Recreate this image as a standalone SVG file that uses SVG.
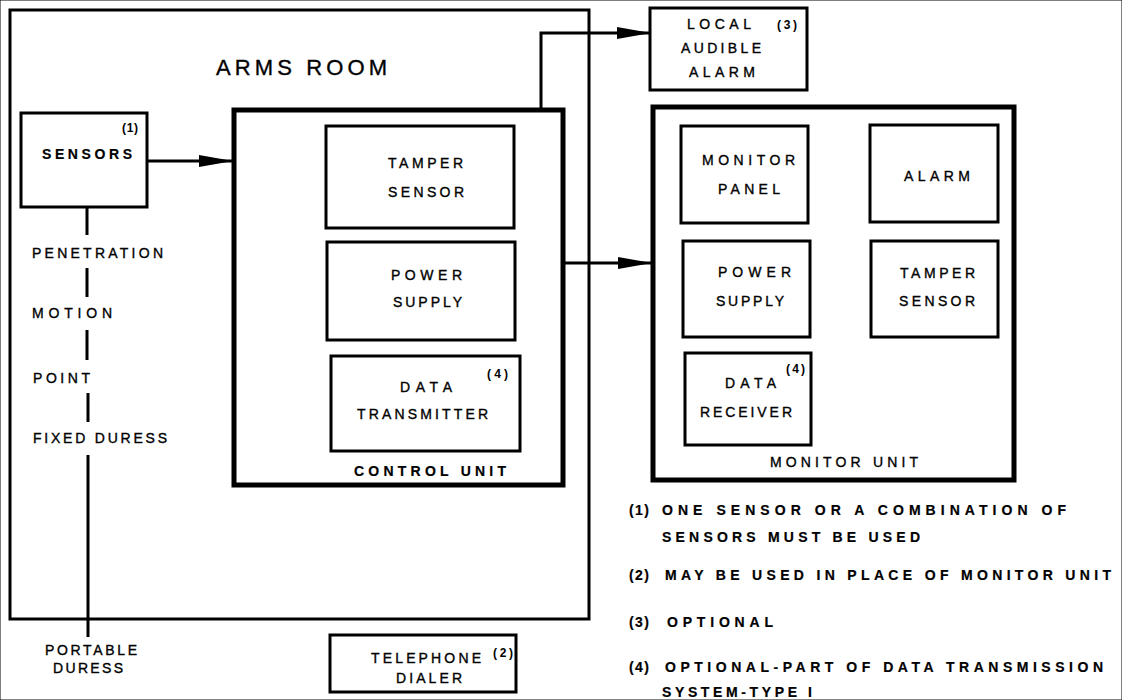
<svg xmlns="http://www.w3.org/2000/svg" width="1122" height="700" viewBox="0 0 1122 700">
<style>
rect{fill:none;stroke:#000}
.box{stroke-width:3}
.thick{stroke-width:5}
.room{stroke-width:3}
.ln{fill:none;stroke:#000;stroke-width:3}
text{font-family:"Liberation Sans",Arial,sans-serif;fill:#000;font-size:14px;stroke:#000;stroke-width:0.35}
.b{font-weight:bold;stroke-width:0.2}
.big{font-size:22px}
.sm{font-size:12px;font-weight:bold;stroke-width:0}
</style>
<defs>
<marker id="ah" markerUnits="userSpaceOnUse" markerWidth="34" markerHeight="12" refX="33" refY="6" orient="auto">
<path d="M0,0 L34,6 L0,12 z" fill="#000"/>
</marker>
</defs>
<rect width="1122" height="700" fill="#fff" stroke="none"/>

<g id="arms-room">
<rect class="room" x="10" y="10" width="579" height="609"/>
<text class="big" x="216" y="75" textLength="171" lengthAdjust="spacing">ARMS ROOM</text>
</g>

<g id="sensors">
<rect class="box" x="21" y="113" width="126" height="94"/>
<text class="b" font-size="17" x="42" y="159" textLength="90" lengthAdjust="spacing">SENSORS</text>
<text class="sm" x="122" y="132" textLength="16" lengthAdjust="spacing">(1)</text>
</g>

<g id="sensor-types">
<text x="32" y="258" textLength="131" lengthAdjust="spacing">PENETRATION</text>
<text x="32" y="318" textLength="80" lengthAdjust="spacing">MOTION</text>
<text x="33" y="383" textLength="57" lengthAdjust="spacing">POINT</text>
<text x="33" y="443" textLength="134" lengthAdjust="spacing">FIXED DURESS</text>
<text x="45" y="655" textLength="92" lengthAdjust="spacing">PORTABLE</text>
<text x="53" y="673" textLength="70" lengthAdjust="spacing">DURESS</text>
</g>

<g id="control-unit">
<rect class="thick" x="234" y="110" width="329" height="375"/>
<text class="b" font-size="16" x="354" y="476" textLength="152" lengthAdjust="spacing">CONTROL UNIT</text>
</g>
<g id="cu-tamper-sensor">
<rect class="box" x="326" y="126" width="188" height="102"/>
<text x="388" y="168" textLength="75" lengthAdjust="spacing">TAMPER</text>
<text x="388" y="197" textLength="76" lengthAdjust="spacing">SENSOR</text>
</g>
<g id="cu-power-supply">
<rect class="box" x="327" y="242" width="188" height="98"/>
<text x="391" y="280" textLength="71" lengthAdjust="spacing">POWER</text>
<text x="393" y="307" textLength="69" lengthAdjust="spacing">SUPPLY</text>
</g>
<g id="cu-data-transmitter">
<rect class="box" x="331" y="356" width="189" height="95"/>
<text x="400" y="392" textLength="52" lengthAdjust="spacing">DATA</text>
<text x="357" y="419" textLength="131" lengthAdjust="spacing">TRANSMITTER</text>
<text class="sm" x="487" y="378" textLength="21" lengthAdjust="spacing">(4)</text>
</g>

<g id="local-audible-alarm">
<rect class="box" x="650" y="8" width="157" height="82"/>
<text x="687" y="29" textLength="64" lengthAdjust="spacing">LOCAL</text>
<text class="sm" x="777" y="29" textLength="20" lengthAdjust="spacing">(3)</text>
<text x="681" y="53" textLength="80" lengthAdjust="spacing">AUDIBLE</text>
<text x="689" y="77" textLength="66" lengthAdjust="spacing">ALARM</text>
</g>

<g id="monitor-unit">
<rect class="thick" x="653" y="107" width="361" height="373"/>
<text x="770" y="467" textLength="148" lengthAdjust="spacing">MONITOR UNIT</text>
</g>
<g id="mu-monitor-panel">
<rect class="box" x="681" y="126" width="127" height="97"/>
<text x="702" y="165" textLength="93" lengthAdjust="spacing">MONITOR</text>
<text x="718" y="194" textLength="62" lengthAdjust="spacing">PANEL</text>
</g>
<g id="mu-alarm">
<rect class="box" x="870" y="125" width="128" height="97"/>
<text x="904" y="181" textLength="66" lengthAdjust="spacing">ALARM</text>
</g>
<g id="mu-power-supply">
<rect class="box" x="683" y="241" width="127" height="96"/>
<text x="718" y="277" textLength="73" lengthAdjust="spacing">POWER</text>
<text x="716" y="306" textLength="68" lengthAdjust="spacing">SUPPLY</text>
</g>
<g id="mu-tamper-sensor">
<rect class="box" x="871" y="241" width="127" height="96"/>
<text x="900" y="278" textLength="75" lengthAdjust="spacing">TAMPER</text>
<text x="899" y="306" textLength="76" lengthAdjust="spacing">SENSOR</text>
</g>
<g id="mu-data-receiver">
<rect class="box" x="685" y="353" width="126" height="92"/>
<text x="725" y="388" textLength="51" lengthAdjust="spacing">DATA</text>
<text x="700" y="417" textLength="92" lengthAdjust="spacing">RECEIVER</text>
<text class="sm" x="786" y="373" textLength="19" lengthAdjust="spacing">(4)</text>
</g>

<g id="telephone-dialer">
<rect class="box" stroke-width="4" x="330" y="635" width="186" height="57"/>
<text x="371" y="663" textLength="110" lengthAdjust="spacing">TELEPHONE</text>
<text class="sm" x="493" y="657" textLength="20" lengthAdjust="spacing">(2)</text>
<text x="396" y="683" textLength="66" lengthAdjust="spacing">DIALER</text>
</g>

<g id="connectors">
<path class="ln" d="M147,161 H232" marker-end="url(#ah)"/>
<path class="ln" d="M541,108 V33 H650" marker-end="url(#ah)"/>
<path class="ln" d="M563,263 H651" marker-end="url(#ah)"/>
<path class="ln" d="M87,207 V235 M87,268 V297 M87,330 V360 M88,393 V422 M88,455 V637"/>
</g>

<g id="notes">
<text class="b" x="629" y="515" textLength="20" lengthAdjust="spacing">(1)</text>
<text class="b" x="662" y="515" textLength="404" lengthAdjust="spacing">ONE SENSOR OR A COMBINATION OF</text>
<text class="b" x="662" y="542" textLength="258" lengthAdjust="spacing">SENSORS MUST BE USED</text>
<text class="b" x="629" y="580" textLength="20" lengthAdjust="spacing">(2)</text>
<text class="b" x="665" y="580" textLength="446" lengthAdjust="spacing">MAY BE USED IN PLACE OF MONITOR UNIT</text>
<text class="b" x="629" y="627" textLength="20" lengthAdjust="spacing">(3)</text>
<text class="b" x="667" y="627" textLength="106" lengthAdjust="spacing">OPTIONAL</text>
<text class="b" x="629" y="672" textLength="20" lengthAdjust="spacing">(4)</text>
<text class="b" x="665" y="672" textLength="438" lengthAdjust="spacing">OPTIONAL-PART OF DATA TRANSMISSION</text>
<text class="b" x="662" y="697" textLength="150" lengthAdjust="spacing">SYSTEM-TYPE I</text>
</g>
</svg>
